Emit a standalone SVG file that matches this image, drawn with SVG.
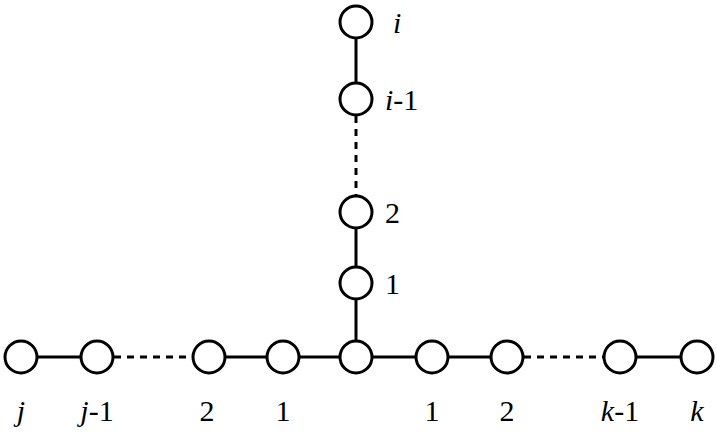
<svg xmlns="http://www.w3.org/2000/svg" width="717" height="444" viewBox="0 0 717 444">
<style>
.n{fill:#fff;stroke:#000;stroke-width:3}
.e{stroke:#000;stroke-width:3}
.d{stroke:#000;stroke-width:3;stroke-dasharray:7,6}
text{font-family:"Liberation Serif",serif;font-size:30px;fill:#000}
.c{text-anchor:middle}
</style>
<rect width="717" height="444" fill="#fff"/>
<g id="connectors">
<line class="e" x1="356" y1="22" x2="356" y2="99"/>
<line class="d" x1="356" y1="116" x2="356" y2="195"/>
<line class="e" x1="356" y1="212" x2="356" y2="357"/>
<line class="e" x1="21" y1="357" x2="97" y2="357"/>
<line class="d" x1="114" y1="357" x2="192" y2="357"/>
<line class="e" x1="209" y1="357" x2="507" y2="357"/>
<line class="d" x1="524" y1="357" x2="603" y2="357"/>
<line class="e" x1="620" y1="357" x2="697" y2="357"/>
</g>
<g id="v_i"><circle class="n" cx="356" cy="22" r="16"/><text x="393" y="33" font-style="italic">i</text></g>
<g id="v_i1"><circle class="n" cx="356" cy="99" r="16"/><text x="385" y="110"><tspan font-style="italic">i</tspan>-1</text></g>
<g id="v_2"><circle class="n" cx="356" cy="212" r="16"/><text x="385" y="223">2</text></g>
<g id="v_1"><circle class="n" cx="356" cy="283" r="16"/><text x="385" y="294">1</text></g>
<g id="center"><circle class="n" cx="356" cy="357" r="16"/></g>
<g id="j"><circle class="n" cx="21" cy="357" r="16"/><text class="c" x="21" y="421" font-style="italic">j</text></g>
<g id="j1"><circle class="n" cx="97" cy="357" r="16"/><text class="c" x="97" y="421"><tspan font-style="italic">j</tspan>-1</text></g>
<g id="l2"><circle class="n" cx="209" cy="357" r="16"/><text class="c" x="207" y="421">2</text></g>
<g id="l1"><circle class="n" cx="283" cy="357" r="16"/><text class="c" x="283" y="421">1</text></g>
<g id="r1"><circle class="n" cx="432" cy="357" r="16"/><text class="c" x="432" y="421">1</text></g>
<g id="r2"><circle class="n" cx="507" cy="357" r="16"/><text class="c" x="507" y="421">2</text></g>
<g id="k1"><circle class="n" cx="620" cy="357" r="16"/><text class="c" x="620" y="421"><tspan font-style="italic">k</tspan>-1</text></g>
<g id="k"><circle class="n" cx="697" cy="357" r="16"/><text class="c" x="697" y="421" font-style="italic">k</text></g>
</svg>
